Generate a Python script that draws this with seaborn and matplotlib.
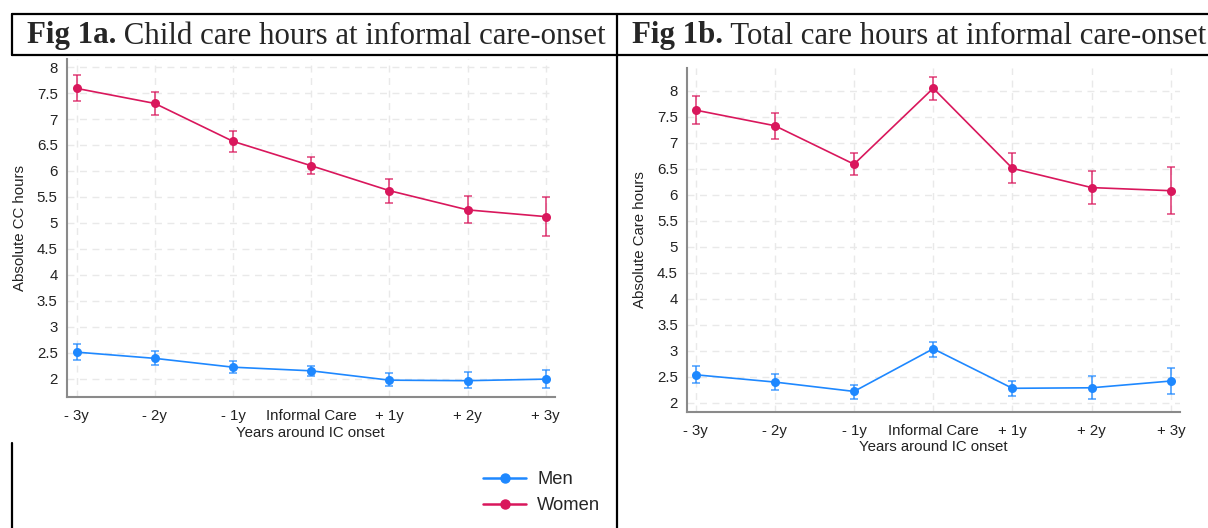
import numpy as np
import pandas as pd
import matplotlib
matplotlib.use("Agg")
import matplotlib.pyplot as plt
from matplotlib.lines import Line2D
import seaborn as sns

# x categories
periods = ["- 3y", "- 2y", "- 1y", "Informal Care", "+ 1y", "+ 2y", "+ 3y"]

# Fig 1a: child care hours
cc_women = [7.59, 7.30, 6.57, 6.10, 5.62, 5.25, 5.12]
cc_women_lo = [7.34, 7.08, 6.37, 5.94, 5.38, 5.00, 4.74]
cc_women_hi = [7.84, 7.52, 6.76, 6.27, 5.84, 5.51, 5.49]
cc_men = [2.51, 2.39, 2.22, 2.15, 1.97, 1.96, 1.99]
cc_men_lo = [2.36, 2.26, 2.10, 2.05, 1.85, 1.81, 1.81]
cc_men_hi = [2.67, 2.53, 2.34, 2.24, 2.10, 2.12, 2.17]

# Fig 1b: total care hours
tot_women = [7.63, 7.33, 6.59, 8.05, 6.51, 6.14, 6.08]
tot_women_lo = [7.37, 7.08, 6.38, 7.82, 6.23, 5.83, 5.63]
tot_women_hi = [7.90, 7.57, 6.80, 8.26, 6.80, 6.46, 6.54]
tot_men = [2.54, 2.40, 2.22, 3.04, 2.28, 2.29, 2.42]
tot_men_lo = [2.38, 2.24, 2.08, 2.89, 2.13, 2.07, 2.17]
tot_men_hi = [2.70, 2.55, 2.35, 3.18, 2.42, 2.51, 2.67]

men_color = "#1E88FF"
women_color = "#D9175C"

sns.set_theme(style="white")
plt.rcParams["font.family"] = ["Liberation Sans", "DejaVu Sans"]

W, H = 1208, 528
fig = plt.figure(figsize=(W / 100, H / 100), dpi=100)


def px_rect(x0, x1, ytop, ybot):
    return [x0 / W, (H - ybot) / H, (x1 - x0) / W, (ybot - ytop) / H]


def draw_panel(ax, women, w_lo, w_hi, men, m_lo, m_hi, ylim, xlim, ylabel):
    pos = np.arange(len(periods))
    df = pd.DataFrame({
        "pos": np.concatenate([pos, pos]),
        "hours": men + women,
        "sex": ["Men"] * len(men) + ["Women"] * len(women),
    })
    for sex, vals, lo, hi, col in [("Men", men, m_lo, m_hi, men_color),
                                   ("Women", women, w_lo, w_hi, women_color)]:
        vals = np.array(vals)
        ax.errorbar(pos, vals, yerr=[vals - np.array(lo), np.array(hi) - vals],
                    fmt="none", ecolor=col, alpha=0.75, elinewidth=1.3,
                    capsize=2.8, capthick=1.2, zorder=3)
    sns.lineplot(data=df, x="pos", y="hours", hue="sex",
                 palette={"Men": men_color, "Women": women_color},
                 marker="o", markersize=6.5, markeredgewidth=0, linewidth=1.2,
                 ax=ax, legend=False, zorder=4)
    ax.set_xlim(*xlim)
    ax.set_ylim(*ylim)
    ax.set_xticks(pos)
    ax.set_xticklabels(periods)
    yt = np.arange(2, 8.01, 0.5)
    ax.set_yticks(yt)
    ax.set_yticklabels([f"{v:g}" for v in yt])
    ax.grid(True, color="#E9E9E9", linestyle=(0, (5, 4)), linewidth=1.0)
    ax.set_axisbelow(True)
    for s in ["top", "right"]:
        ax.spines[s].set_visible(False)
    for s in ["left", "bottom"]:
        ax.spines[s].set_color("#8A8A8A")
        ax.spines[s].set_linewidth(1.5)
    ax.tick_params(axis="both", direction="out", length=4, width=1.0,
                   color="#8A8A8A", labelsize=10.8, labelcolor="#222222", pad=2.5)
    ax.tick_params(axis="x", pad=4.5)
    ax.set_xlabel("Years around IC onset", fontsize=10.8, color="#222222", labelpad=2)
    ax.set_ylabel(ylabel, fontsize=10.8, color="#222222")
    ax.yaxis.set_label_coords(-0.082, 0.5)


ax1 = fig.add_axes(px_rect(66.7, 554.8, 59.3, 397.3))
draw_panel(ax1, cc_women, cc_women_lo, cc_women_hi, cc_men, cc_men_lo, cc_men_hi,
           (1.64, 8.15), (-0.127, 6.115), "Absolute CC hours")

ax2 = fig.add_axes(px_rect(687, 1180, 68, 411.7))
draw_panel(ax2, tot_women, tot_women_lo, tot_women_hi, tot_men, tot_men_lo, tot_men_hi,
           (1.83, 8.44), (-0.109, 6.116), "Absolute Care hours")

# table borders
def fline(xs, ys, lw=1.6):
    fig.add_artist(Line2D([x / W for x in xs], [(H - y) / H for y in ys],
                          color="black", linewidth=lw, transform=fig.transFigure))

fline([12, 1208], [14, 14])
fline([12, 1208], [55, 55])
fline([12, 12], [14, 55])
fline([12, 12], [443, 528])
fline([617, 617], [14, 528])

# header text
serif = ["Liberation Serif", "DejaVu Serif"]
for x0, tag, rest in [(27, "Fig 1a.", " Child care hours at informal care-onset"),
                      (632, "Fig 1b.", " Total care hours at informal care-onset")]:
    t = fig.text(x0 / W, (H - 36) / H, tag, fontsize=22.2, fontweight="bold",
                 family=serif, va="center", ha="left")
    fig.canvas.draw()
    bb = t.get_window_extent()
    fig.text(bb.x1 / W, (H - 36) / H, rest, fontsize=22.2, family=serif,
             va="center", ha="left")

# legend
handles = [Line2D([], [], color=men_color, marker="o", markersize=6.5, linewidth=1.8),
           Line2D([], [], color=women_color, marker="o", markersize=6.5, linewidth=1.8)]
fig.legend(handles, ["Men", "Women"], loc="upper left",
           bbox_to_anchor=(483 / W, (H - 471) / H), frameon=False,
           fontsize=13.2, handlelength=2.35, handletextpad=0.6, labelspacing=0.5,
           borderaxespad=0, borderpad=0)

fig.savefig("out.png", dpi=100)
